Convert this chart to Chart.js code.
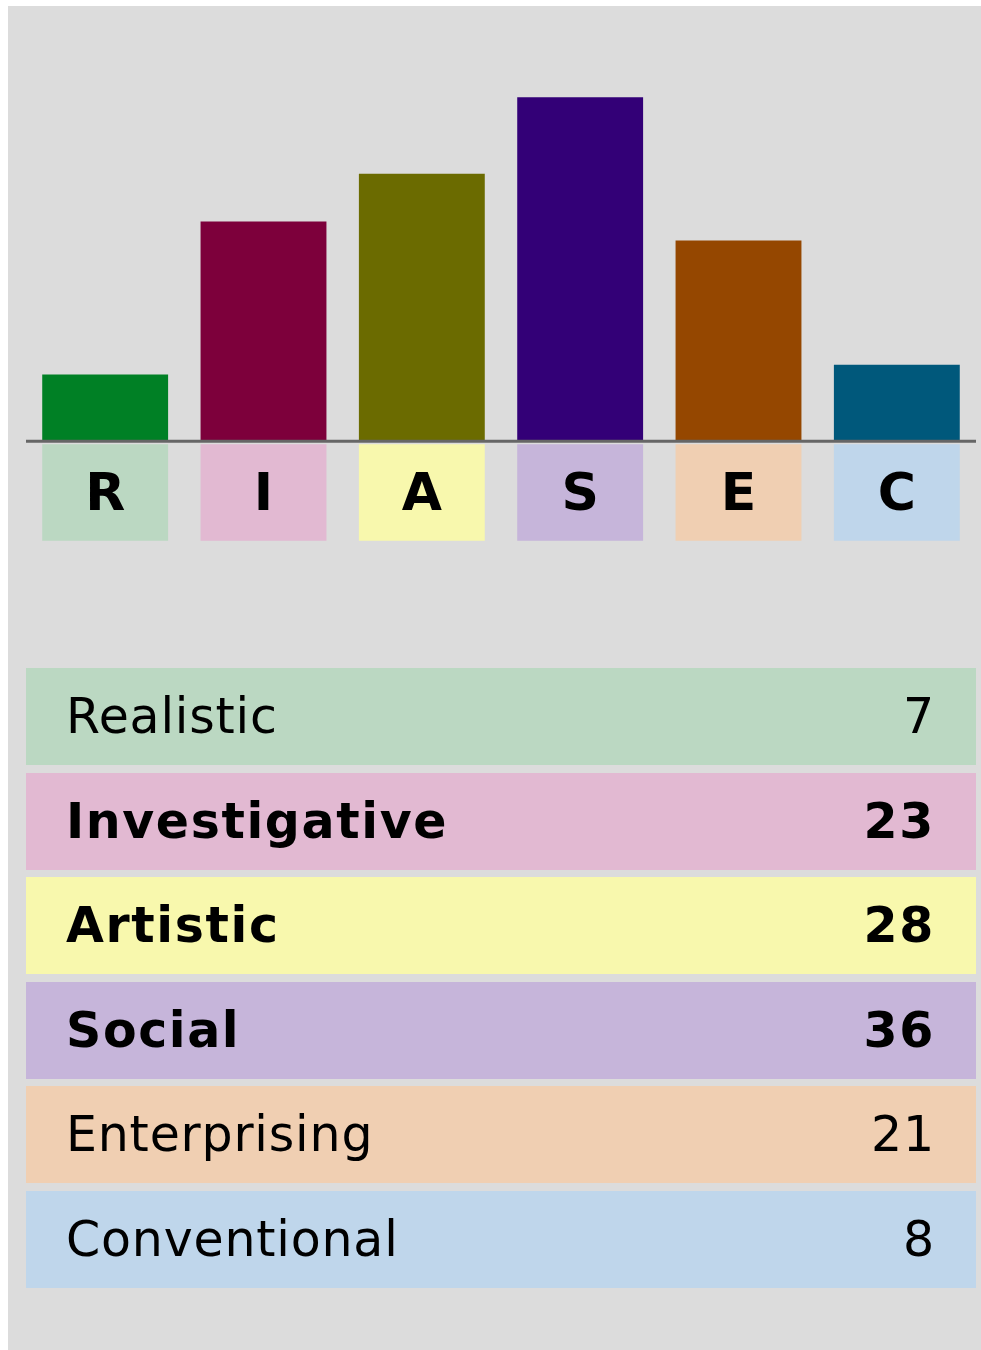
<!DOCTYPE html>
<html>
<head>
<meta charset="utf-8">
<script src="https://cdn.jsdelivr.net/npm/chart.js@4.4.0/dist/chart.umd.min.js"></script>
<style>
  body { margin: 0; background: #fff; font-family: "DejaVu Sans", Verdana, sans-serif; }
  #panel { position: absolute; left: 8px; top: 6px; width: 973px; height: 1344px; background: #dcdcdc; }
  #chartBox { position: absolute; left: 26px; top: 59px; width: 950px; height: 497px; }
  #table { position: absolute; left: 26px; top: 668px; width: 950px; }
  .row { height: 97px; margin-bottom: 7.6px; display: flex; justify-content: space-between;
         align-items: center; padding: 0 41px 0 40px; box-sizing: border-box; font-size: 49px;
         letter-spacing: 0.8px; color: #000; }
  .row.top { font-weight: bold; letter-spacing: 1.6px; }
</style>
</head>
<body>
<div id="panel"></div>
<div id="chartBox"><canvas id="myChart" width="950" height="497"></canvas></div>
<div id="table"></div>
<script>
var letters = ["R", "I", "A", "S", "E", "C"];
var names = ["Realistic", "Investigative", "Artistic", "Social", "Enterprising", "Conventional"];
var scores = [7, 23, 28, 36, 21, 8];
var darkColors = ["#008025", "#7d003b", "#6b6b00", "#330077", "#954700", "#00587b"];
var lightColors = ["#bbd8c2", "#e2b9d2", "#f8f8ad", "#c6b5da", "#f0cfb2", "#bfd6eb"];
var letterBox = [-10.4, -0.3];

var boxes = letters.map(function () { return letterBox; });

var drawExtras = {
  id: "extras",
  afterDatasetsDraw: function (chart) {
    var ctx = chart.ctx;
    var x = chart.scales.x, y = chart.scales.y;
    var y0 = y.getPixelForValue(0);
    ctx.save();
    ctx.strokeStyle = "#666";
    ctx.lineWidth = 3;
    ctx.beginPath();
    ctx.moveTo(chart.chartArea.left, y0);
    ctx.lineTo(chart.chartArea.right, y0);
    ctx.stroke();
    ctx.fillStyle = "#000";
    ctx.font = "bold 52px 'DejaVu Sans', Verdana, sans-serif";
    ctx.textAlign = "center";
    ctx.textBaseline = "middle";
    var midY = y.getPixelForValue((letterBox[0] + letterBox[1]) / 2) + 4;
    letters.forEach(function (l, i) {
      ctx.fillText(l, x.getPixelForValue(i), midY);
    });
    ctx.restore();
  }
};

new Chart("myChart", {
  type: "bar",
  data: {
    labels: letters,
    datasets: [
      { data: scores, backgroundColor: darkColors, grouped: false, barPercentage: 0.795, categoryPercentage: 1 },
      { data: boxes, backgroundColor: lightColors, grouped: false, barPercentage: 0.795, categoryPercentage: 1 }
    ]
  },
  options: {
    responsive: false,
    animation: false,
    layout: { padding: 0 },
    scales: {
      x: { display: false },
      y: { display: false, min: -12, max: 40 }
    },
    plugins: { legend: { display: false }, tooltip: { enabled: false } }
  },
  plugins: [drawExtras]
});

var sorted = scores.slice().sort(function (a, b) { return b - a; });
var cutoff = sorted[2];
var html = "";
for (var i = 0; i < names.length; i++) {
  html += "<div class='row" + (scores[i] >= cutoff ? " top" : "") + "' style='background:" + lightColors[i] + "'>" +
    "<span>" + names[i] + "</span><span>" + scores[i] + "</span></div>";
}
document.getElementById("table").innerHTML = html;
</script>
</body>
</html>
